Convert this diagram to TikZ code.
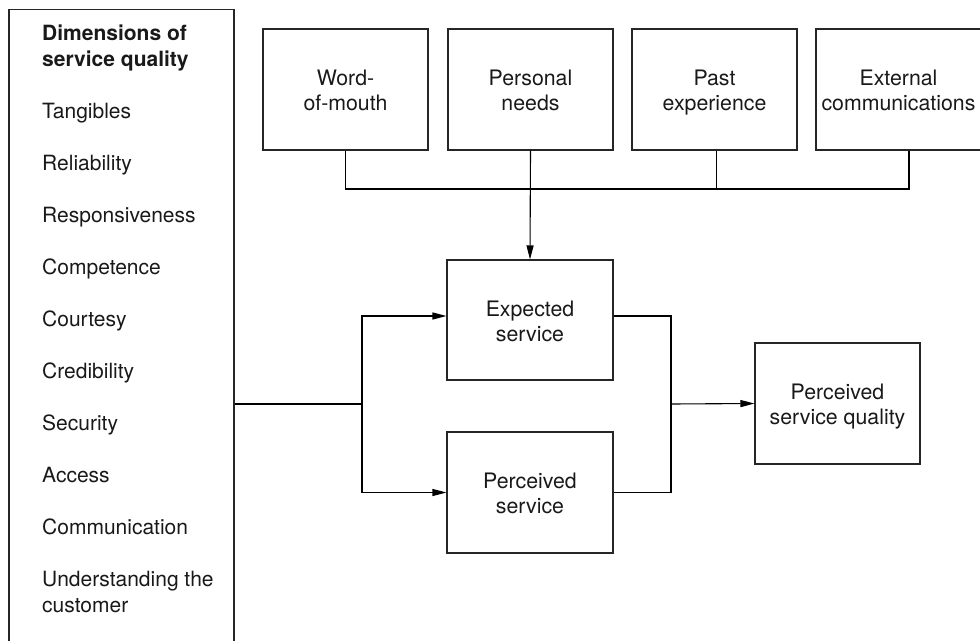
\documentclass[tikz,border=0pt]{standalone}
\usepackage{fontspec}
\setmainfont{TeX Gyre Heros}
\usetikzlibrary{arrows.meta}
\begin{document}
\begin{tikzpicture}[x=1pt,y=-1pt,
  box/.style={draw=black!85, line width=1.1pt, minimum width=165pt, minimum height=121pt, inner sep=0pt},
  txt/.style={align=center, inner sep=0pt, text=black!90, font=\fontsize{21.3}{25}\selectfont},
  item/.style={anchor=base west, inner sep=0pt, text=black!90, font=\fontsize{21}{26}\selectfont},
  head/.style={item, font=\fontsize{21}{26}\selectfont\bfseries},
  wire/.style={line width=1.1pt, black},
  arrow/.style={wire, -{Triangle[length=14pt,width=7pt]}}]
\useasboundingbox (0,0) rectangle (980,640);

% left panel: list of dimensions (open at the bottom of the page)
\node[draw=black!85, line width=1.1pt, minimum width=225pt, minimum height=650pt, inner sep=0pt] (dims) at (121.5,334.75) {};
\node[head] (h1) at (42,40) {Dimensions of};
\node[head] (h2) at (42,66) {service quality};
\node[item] (d1) at (42,118) {Tangibles};
\node[item] (d2) at (42,170) {Reliability};
\node[item] (d3) at (42,222) {Responsiveness};
\node[item] (d4) at (42,274) {Competence};
\node[item] (d5) at (42,326) {Courtesy};
\node[item] (d6) at (42,378) {Credibility};
\node[item] (d7) at (42,430) {Security};
\node[item] (d8) at (42,482) {Access};
\node[item] (d9) at (42,534) {Communication};
\node[item] (d10) at (42,586) {Understanding the};
\node[item] (d11) at (42,612) {customer};

% influences on expectations
\node[box] (wom) at (345.5,89.5) {};
\node[box] (pn) at (530.5,89.5) {};
\node[box] (past) at (714.5,89.5) {};
\node[box] (ext) at (898.5,89.5) {};
\node[txt] (womT) at ([yshift=-3.5pt]wom.center) {\strut Word-\\of-mouth\strut};
\node[txt] (pnT) at ([yshift=-3.5pt]pn.center) {\strut Personal\\needs\strut};
\node[txt] (pastT) at ([yshift=-3.5pt]past.center) {\strut Past\\experience\strut};
\node[txt] (extT) at ([yshift=-3.5pt]ext.center) {\strut External\\communications\strut};

% service boxes
\node[box, minimum width=166pt, minimum height=120pt] (es) at (530,320) {};
\node[box, minimum width=166pt, minimum height=121pt] (ps) at (530,492.5) {};
\node[box] (psq) at (837.5,403.5) {};
\node[txt] (esT) at ([yshift=-3.5pt]es.center) {\strut Expected\\service\strut};
\node[txt] (psT) at ([yshift=-3.5pt]ps.center) {\strut Perceived\\service\strut};
\node[txt] (psqT) at ([yshift=-3.5pt]psq.center) {\strut Perceived\\service quality\strut};

% connectors
\coordinate (bus) at (0,189);
\coordinate (pastS) at ([xshift=2pt]past.south);
\coordinate (extS) at ([xshift=10.5pt]ext.south);
\coordinate (split) at (362,404);
\coordinate (join) at (671,404);
\coordinate (esIn) at ([yshift=4pt]es.west);
\coordinate (esOut) at ([yshift=4pt]es.east);

\draw[wire] (wom.south) -- (wom.south |- bus) -- (extS |- bus) -- (extS);
\draw[wire] (pastS) -- (pastS |- bus);
\draw[arrow] (pn.south) -- (es.north);

\draw[wire] (dims.east |- split) -- (split);
\draw[arrow] (split) |- (esIn);
\draw[arrow] (split) |- (ps.west);

\draw[wire] (esOut) -| (join);
\draw[wire] (ps.east) -| (join);
\draw[arrow] (join) -- (psq.west);
\end{tikzpicture}
\end{document}
